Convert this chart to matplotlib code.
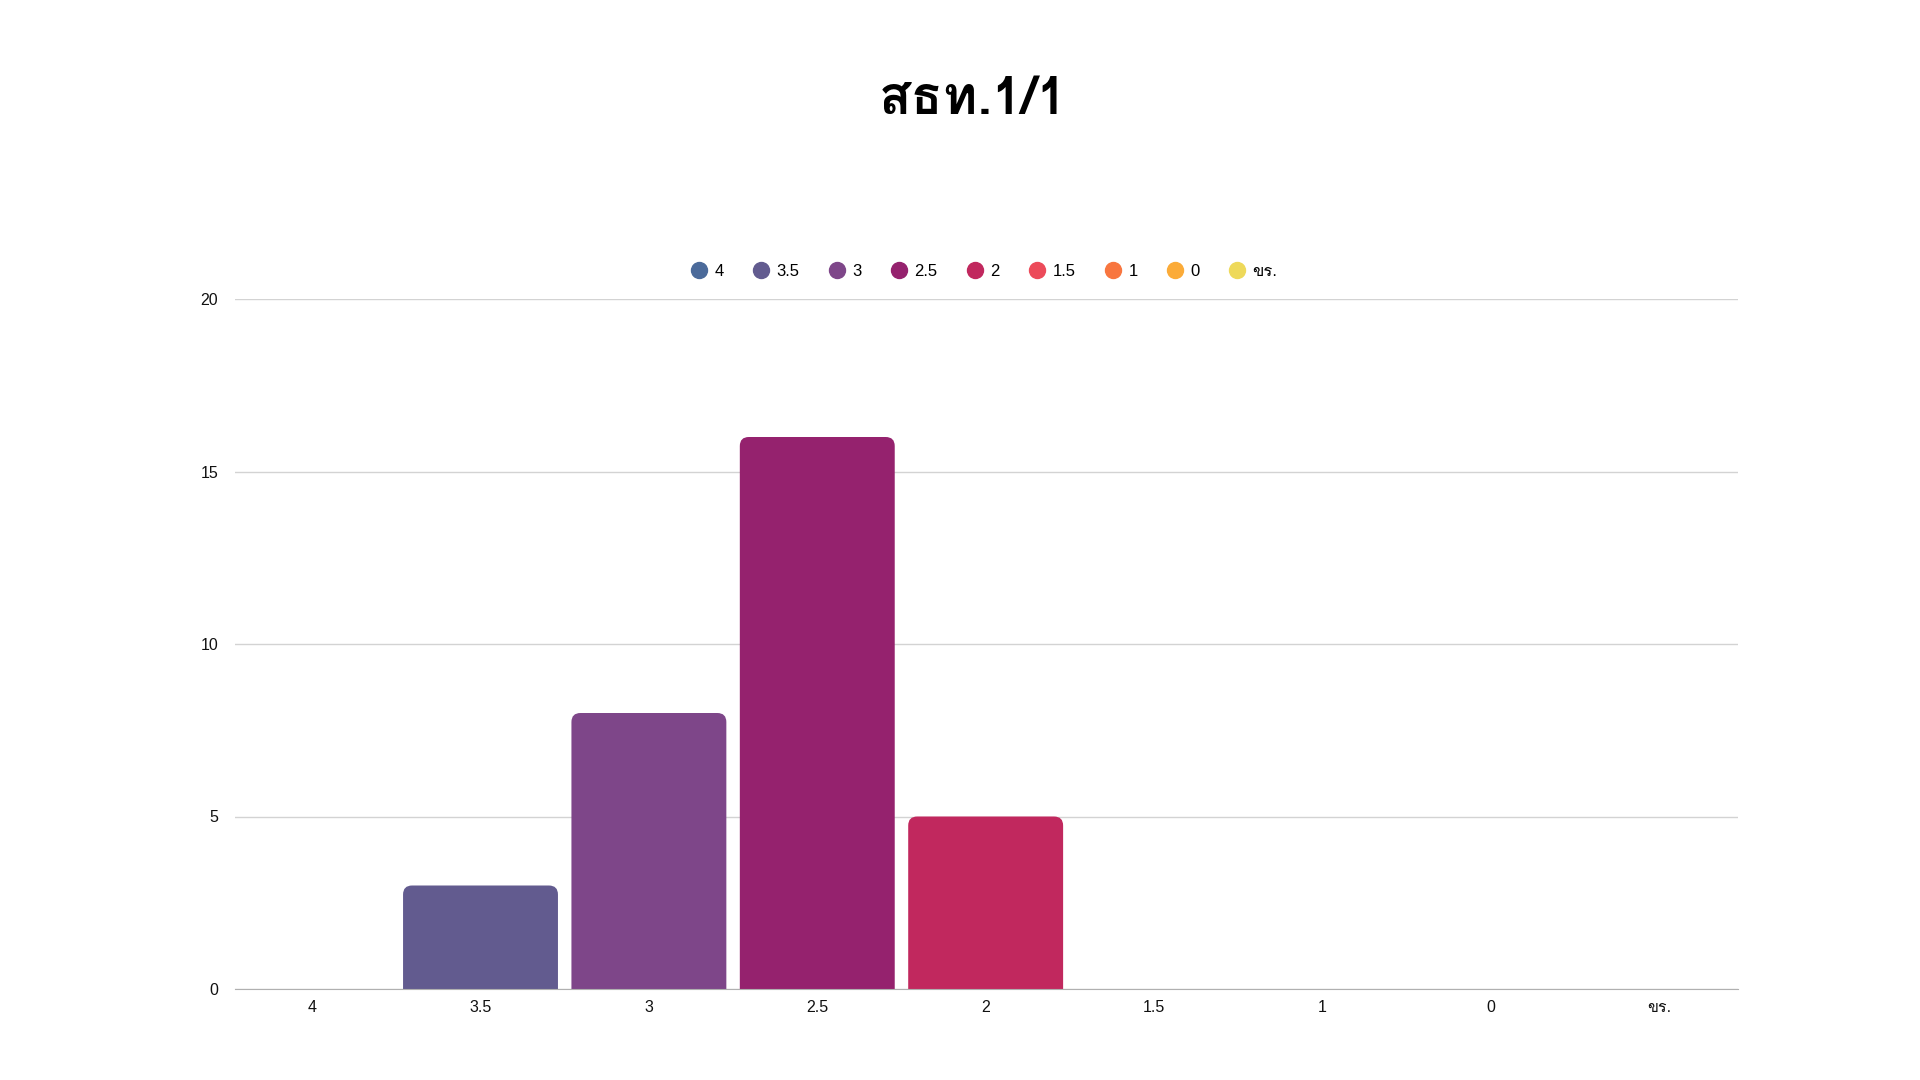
import matplotlib
matplotlib.use("Agg")
import matplotlib.pyplot as plt
from matplotlib import font_manager
from matplotlib.ft2font import FT2Font
from matplotlib.patches import FancyBboxPatch
from matplotlib.lines import Line2D

categories = ["4", "3.5", "3", "2.5", "2", "1.5", "1", "0", "ขร."]
counts = [0, 3, 8, 16, 5, 0, 0, 0, 0]
colors = ["#4b6a9a", "#625b8f", "#7e4689", "#95226e", "#c1285e",
          "#ec4b5a", "#f8763f", "#fbab38", "#eed95a"]
title = "สธท.1/1"
yticks = [0, 5, 10, 15, 20]

# find a font with Thai glyphs
thai_fonts = []
for f in font_manager.fontManager.ttflist:
    try:
        if 0x0E2A in FT2Font(f.fname).get_charmap():
            if f.name not in thai_fonts:
                thai_fonts.append(f.name)
    except Exception:
        pass
families = thai_fonts[:2] + ["DejaVu Sans"]
plt.rcParams["font.family"] = ["Liberation Sans"] + families

fig = plt.figure(figsize=(19.2, 10.8), dpi=100)
ax = fig.add_axes([235 / 1920, 1 - 989 / 1080, 1503 / 1920, 690 / 1080])

x = list(range(len(categories)))
bars = ax.bar(x, counts, width=0.92, color=colors)

ax.set_xlim(-0.458, 8.468)
ax.set_ylim(0, 20)

# replace with rounded-top bars
r_px = 9
xr = r_px / (1503 / 8.926)
yr = r_px / (690 / 20)
for b, c in zip(bars, colors):
    h = b.get_height()
    b.set_visible(False)
    if h <= 0:
        continue
    p = FancyBboxPatch((b.get_x(), -yr), b.get_width(), h + yr,
                       boxstyle=f"round,pad=0,rounding_size={xr}",
                       mutation_aspect=yr / xr, facecolor=c, edgecolor="none",
                       zorder=2)
    ax.add_patch(p)

ax.set_yticks(yticks)
ax.set_xticks(x)
ax.set_xticklabels(categories, fontsize=11.5)
ax.tick_params(axis="both", length=0, labelsize=11.5, colors="#111111")
ax.tick_params(axis="y", pad=12)
ax.tick_params(axis="x", pad=8)
ax.grid(axis="y", color="#d3d3d3", linewidth=1, zorder=0)
ax.set_axisbelow(True)
for s in ["top", "right", "left"]:
    ax.spines[s].set_visible(False)
ax.spines["bottom"].set_color("#b0b0b0")
ax.spines["bottom"].set_zorder(3)

handles = [Line2D([], [], marker="o", linestyle="none", markersize=11.5,
                  markerfacecolor=c, markeredgecolor=c) for c in colors]
fig.legend(handles, categories, loc="center", bbox_to_anchor=(984 / 1920, 1 - 271 / 1080),
           ncol=9, frameon=False, fontsize=12, handletextpad=0.45, columnspacing=1.72,
           handlelength=1.0)

fig.text(973 / 1920, 1 - 100 / 1080, title, ha="center", va="center",
         fontsize=38, fontweight="bold", family=families)

fig.savefig("out.png", dpi=100, facecolor="white")
